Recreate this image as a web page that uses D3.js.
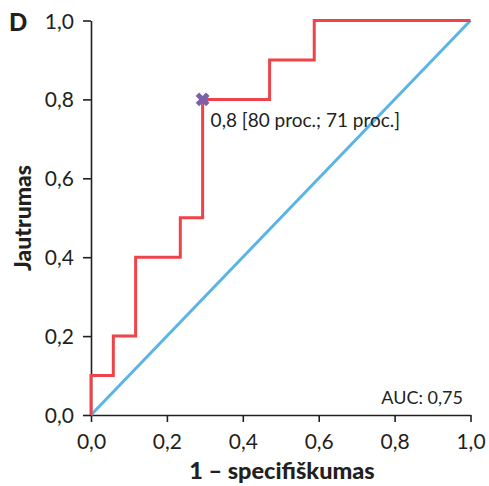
<!DOCTYPE html>
<html><head><meta charset="utf-8">
<script src="https://cdn.jsdelivr.net/npm/d3@7/dist/d3.min.js"></script>
<style>body{margin:0;background:#fff}svg{display:block}</style>
</head><body>
<script>
const rocX = [0, 0, 1/17, 1/17, 2/17, 2/17, 4/17, 4/17, 5/17, 5/17, 8/17, 8/17, 10/17, 10/17, 1];
const rocY = [0, 0.1, 0.1, 0.2, 0.2, 0.4, 0.4, 0.5, 0.5, 0.8, 0.8, 0.9, 0.9, 1.0, 1.0];
const diagX = [0, 1];
const diagY = [0, 1];
const cutoff = [5/17, 0.8];
const ticks = [0, 0.2, 0.4, 0.6, 0.8, 1.0];
const tickLabels = ["0,0", "0,2", "0,4", "0,6", "0,8", "1,0"];
const annotation = "0,8 [80 proc.; 71 proc.]";
const aucText = "AUC: 0,75";

const W = 489, H = 486;
const svg = d3.select("body").append("svg").attr("width", W).attr("height", H);
const x = d3.scaleLinear().domain([0, 1]).range([91, 470.5]);
const y = d3.scaleLinear().domain([0, 1]).range([415, 20.5]);
const font = "Lato, 'Open Sans', sans-serif";
const dark = "#231f20";

const fmt = d => tickLabels[ticks.indexOf(d)];
const gx = svg.append("g").attr("transform", `translate(0,${y(0)})`)
  .call(d3.axisBottom(x).tickValues(ticks).tickFormat(fmt).tickSize(7).tickSizeOuter(0).tickPadding(5));
const gy = svg.append("g").attr("transform", `translate(${x(0)},0)`)
  .call(d3.axisLeft(y).tickValues(ticks).tickFormat(fmt).tickSize(8).tickSizeOuter(0).tickPadding(9));
[gx, gy].forEach(g => {
  g.selectAll("path,line").attr("stroke", dark).attr("stroke-width", 1.6);
  g.selectAll("text").attr("font-family", font).attr("font-size", 21).attr("fill", dark);
});
gx.selectAll("text").attr("dy", null).attr("y", 34);
gy.selectAll("text").attr("dy", "0.36em");

svg.append("path").datum(diagX.map((d, i) => [d, diagY[i]]))
  .attr("d", d3.line().x(d => x(d[0])).y(d => y(d[1])))
  .attr("fill", "none").attr("stroke", "#5ab4e5").attr("stroke-width", 3);
svg.append("path").datum(rocX.map((d, i) => [d, rocY[i]]))
  .attr("d", d3.line().x(d => x(d[0])).y(d => y(d[1])))
  .attr("fill", "none").attr("stroke", "#ee4349").attr("stroke-width", 3);

svg.append("path").attr("d", d3.symbol(d3.symbolCross, 120)())
  .attr("transform", `translate(${x(cutoff[0])},${y(cutoff[1])}) rotate(45)`)
  .attr("fill", "#7b61a8");

svg.append("text").attr("x", x(cutoff[0]) + 8).attr("y", y(cutoff[1]) + 28)
  .attr("font-family", font).attr("font-size", 19).attr("fill", dark).text(annotation);
svg.append("text").attr("x", 463).attr("y", 404).attr("text-anchor", "end")
  .attr("font-family", font).attr("font-size", 18).attr("fill", dark).text(aucText);

svg.append("text").attr("x", 9).attr("y", 31).attr("font-family", font)
  .attr("font-weight", 900).attr("font-size", 24).attr("fill", dark).text("D");
svg.append("text").attr("x", 282).attr("y", 479).attr("text-anchor", "middle")
  .attr("font-family", font).attr("font-weight", 900).attr("font-size", 23.5).attr("fill", dark)
  .text("1 – specifiškumas");
svg.append("text").attr("transform", "translate(31,218) rotate(-90)").attr("text-anchor", "middle")
  .attr("font-family", font).attr("font-weight", 900).attr("font-size", 23).attr("fill", dark)
  .text("Jautrumas");
</script>
</body></html>
